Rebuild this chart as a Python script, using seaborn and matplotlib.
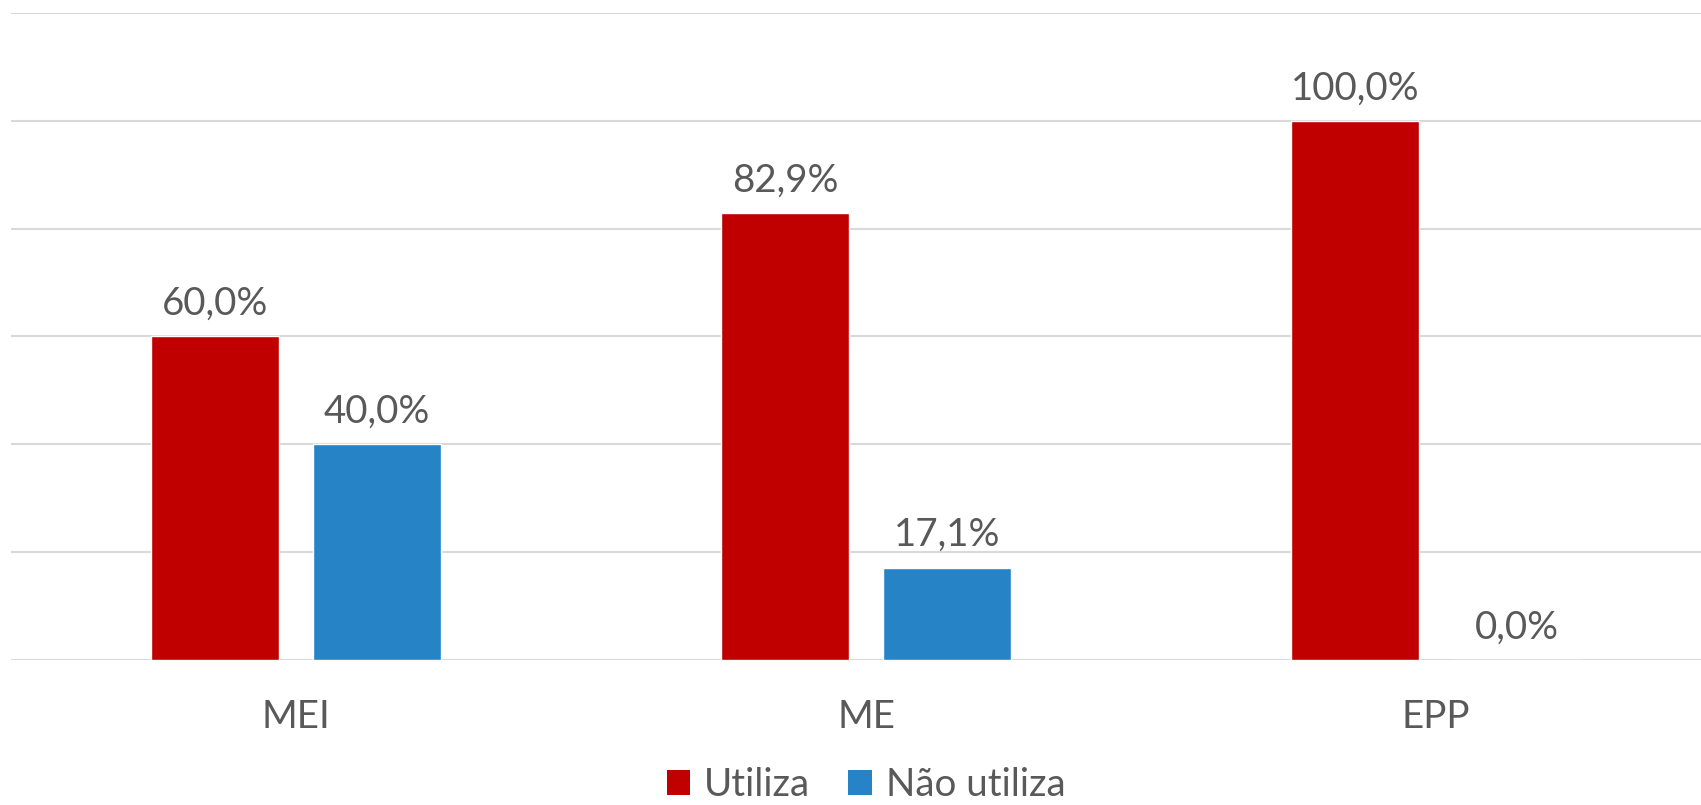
import matplotlib
matplotlib.use("Agg")
import matplotlib.pyplot as plt
import seaborn as sns
import pandas as pd
from matplotlib.patches import Patch

categories = ["MEI", "ME", "EPP"]
series_names = ["Utiliza", "Não utiliza"]
utiliza = [60.0, 82.9, 100.0]
nao_utiliza = [40.0, 17.1, 0.0]
colors = ["#C00000", "#2683C6"]

rows = []
for name, vals in zip(series_names, [utiliza, nao_utiliza]):
    for c, v in zip(categories, vals):
        rows.append({"cat": c, "serie": name, "valor": v})
df = pd.DataFrame(rows)

sns.set_theme(style="white")
plt.rcParams["font.family"] = ["Lato", "DejaVu Sans"]
text_color = "#595959"
fs = 27.7

W, H, DPI = 1701, 805, 100
fig = plt.figure(figsize=(W / DPI, H / DPI), dpi=DPI)
left_px, right_px, top_px, base_px = 11, 1721, 13, 660
ax = fig.add_axes([left_px / W, (H - base_px) / H,
                   (right_px - left_px) / W, (base_px - top_px) / H])

sns.barplot(data=df, x="cat", y="valor", hue="serie", order=categories,
            hue_order=series_names, palette=colors, width=0.568, gap=0.209,
            saturation=1, legend=False, ax=ax)

ax.set_ylim(0, 120)
ax.set_xlim(-0.5, len(categories) - 0.5)
ax.set_yticks([0, 20, 40, 60, 80, 100, 120])
ax.yaxis.grid(True, color="#D9D9D9", linewidth=1.5)
ax.set_axisbelow(True)
for s in ax.spines.values():
    s.set_visible(False)
ax.tick_params(axis="y", left=False, labelleft=False)
ax.tick_params(axis="x", bottom=False, labelsize=fs, labelcolor=text_color, pad=22)
ax.set_xlabel("")
ax.set_ylabel("")

for cont, vals in zip(ax.containers, [utiliza, nao_utiliza]):
    labels = [f"{v:.1f}%".replace(".", ",") for v in vals]
    ax.bar_label(cont, labels=labels, padding=10.5, fontsize=fs, color=text_color)

handles = [Patch(facecolor=c, edgecolor="none") for c in colors]
ax.legend(handles, series_names, loc="center", bbox_to_anchor=(0.5, -0.193),
          ncol=2, frameon=False, fontsize=fs, labelcolor=text_color,
          handlelength=0.62, handleheight=0.62, handletextpad=0.35, columnspacing=1.0,
          borderpad=0.1)

fig.savefig("out.png", dpi=DPI)
